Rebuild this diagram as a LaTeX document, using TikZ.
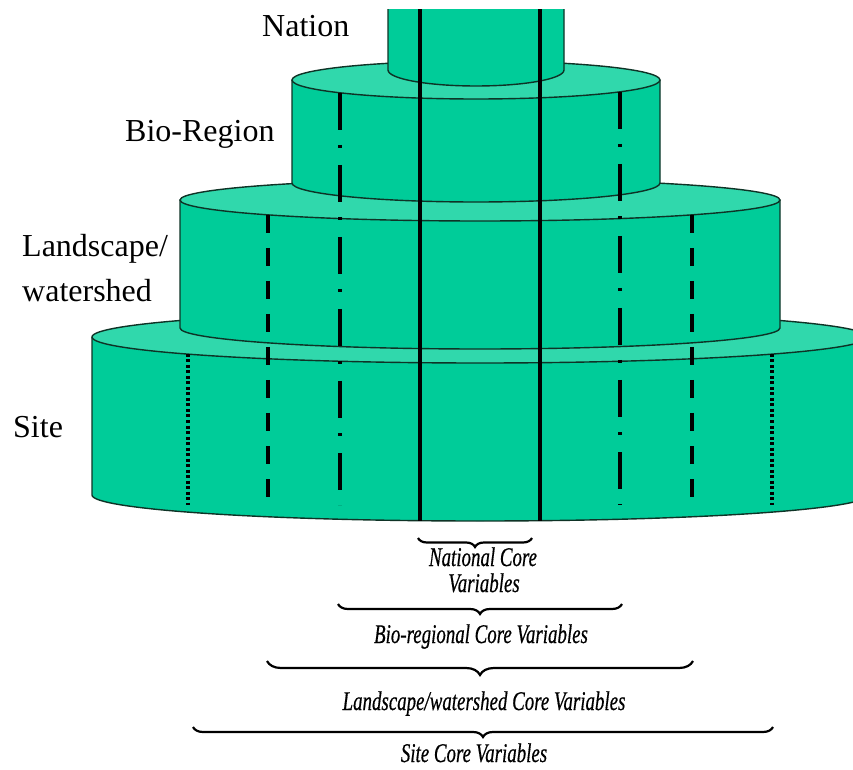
\documentclass[tikz,border=0pt]{standalone}
\usepackage{fontspec}
\setmainfont{Liberation Serif}
\newfontfamily\varfont[FakeBold=0.6]{Liberation Serif Italic}
\usetikzlibrary{decorations.pathreplacing}
\definecolor{sidecol}{HTML}{00CC99}
\definecolor{topcol}{HTML}{30D8AC}
\definecolor{edgecol}{HTML}{0E3326}
\tikzset{
  edge/.style={draw=edgecol, line width=1.4pt},
  solidv/.style={line width=3.2pt},
  dashv/.style={line width=3.4pt, dash pattern=on 18pt off 15pt},
  dashdotv/.style={line width=3.2pt, dash pattern=on 37pt off 15pt on 3pt off 17pt},
  dotv/.style={line width=3.2pt, dash pattern=on 3pt off 2.5pt},
  brc/.style={decorate, decoration={brace, mirror, amplitude=#1}, line width=2.2pt},
  brc/.default=10pt,
  lvl/.style={anchor=base west, inner sep=0pt, font=\fontsize{32}{38}\selectfont},
  var/.style={anchor=base, inner sep=0pt, font=\varfont\fontsize{27}{30}\selectfont},
}
% cx, Ytop, Ybot, rx, ry
\newcommand{\cylbody}[5]{%
  \fill[sidecol] ({#1-#4},#2) -- ({#1-#4},#3) arc[start angle=180,end angle=360,x radius=#4pt,y radius=#5pt] -- ({#1+#4},#2) -- cycle;
  \draw[edge] ({#1-#4},#2) -- ({#1-#4},#3) arc[start angle=180,end angle=360,x radius=#4pt,y radius=#5pt] -- ({#1+#4},#2);
  \filldraw[edge, fill=topcol] (#1,#2) ellipse[x radius=#4pt, y radius=#5pt];
}
\newcommand{\narrow}[1]{\scalebox{0.7}[1]{#1}}
\begin{document}
\begin{tikzpicture}[x=1pt, y=1pt]
\useasboundingbox (0,0) rectangle (853,769);
\fill[white] (0,0) rectangle (853,769);
\begin{scope}
\clip (0,0) rectangle (853,759);
% Site
\cylbody{480}{432}{274}{388}{26}
% Landscape / watershed
\cylbody{480}{569}{441}{300}{21}
% Bio-region
\cylbody{476}{689}{586}{184}{19}
% Nation (top cut off)
\fill[sidecol] (388,790) -- (388,699) arc[start angle=180,end angle=360,x radius=88pt,y radius=16pt] -- (564,790) -- cycle;
\draw[edge] (388,790) -- (388,699) arc[start angle=180,end angle=360,x radius=88pt,y radius=16pt] -- (564,790);
% vertical lines
\draw[solidv] (420,770) -- (420,248);
\draw[solidv] (540,770) -- (540,248);
\draw[dashdotv] (340,676) -- (340,264);
\draw[dashdotv] (620,677) -- (620,264);
\draw[dashv] (268,554) -- (268,266);
\draw[dashv] (692,554) -- (692,266);
\draw[dotv] (188,415) -- (188,264);
\draw[dotv] (772,415) -- (772,264);
\end{scope}
% level labels
\node[lvl] (lnation) at (262,732) {Nation};
\node[lvl] (lbio) at (125,627) {Bio-Region};
\node[lvl] (lland1) at (22,512) {Landscape/};
\node[lvl] (lland2) at (22,467) {watershed};
\node[lvl] (lsite) at (13,332) {Site};
% braces
\draw[brc=9pt] (418,231) -- (532,231);
\draw[brc=10pt] (338,165) -- (622,165);
\draw[brc=14pt] (267,108) -- (693,108);
\draw[brc=10pt] (193,42) -- (773,42);
% brace labels
\node[var] (vnat1) at (483,203) {\narrow{National Core}};
\node[var] (vnat2) at (484,177) {\narrow{Variables}};
\node[var] (vbio) at (481,126) {\narrow{Bio-regional Core Variables}};
\node[var] (vland) at (484,59) {\narrow{Landscape/watershed Core Variables}};
\node[var] (vsite) at (474,7) {\narrow{Site Core Variables}};
\end{tikzpicture}
\end{document}
